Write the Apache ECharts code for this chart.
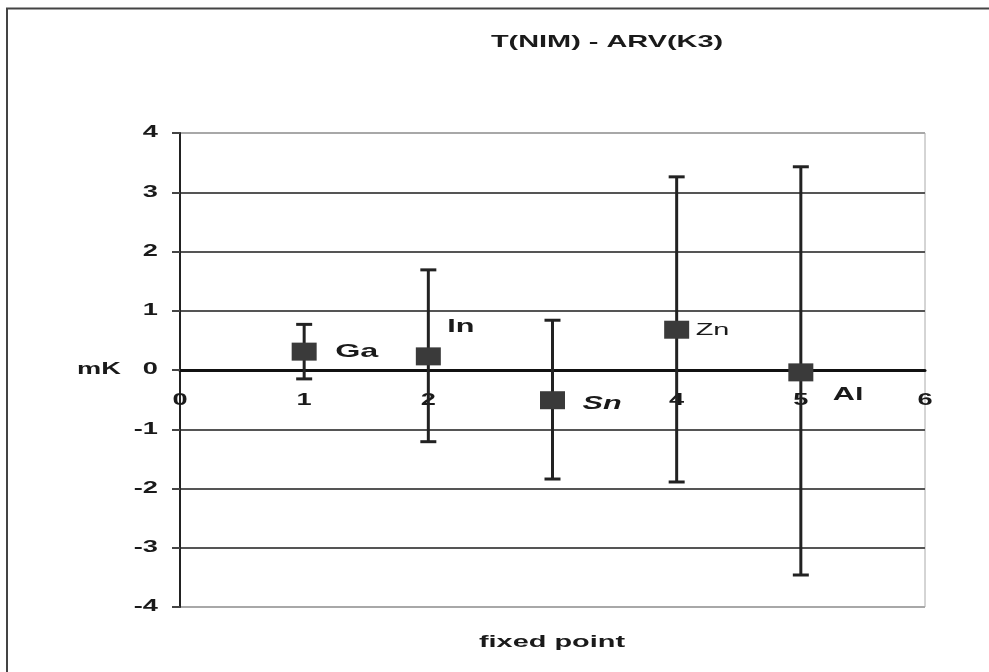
<!DOCTYPE html>
<html>
<head>
<meta charset="utf-8">
<script src="https://cdn.jsdelivr.net/npm/echarts@6/dist/echarts.min.js"></script>
<style>
html,body{margin:0;padding:0;background:#fff;}
#c{width:989px;height:672px;}
</style>
</head>
<body>
<div id="c"></div>
<script>
var fixedPoints = ['Ga', 'In', 'Sn', 'Zn', 'Al'];
var xValues = [1, 2, 3, 4, 5];
var diffValues = [0.31, 0.23, -0.51, 0.68, -0.04];
var errUpper = [0.77, 1.69, 0.84, 3.26, 3.43];
var errLower = [-0.15, -1.21, -1.84, -1.89, -3.46];
var xTicks = [0, 1, 2, 3, 4, 5, 6];
var yTicks = [-4, -3, -2, -1, 0, 1, 2, 3, 4];

var FONT = 'Arial, "Liberation Sans", sans-serif';
var STRETCH = 1.7;

// label styling per point: offset from marker centre, weight, style, size
var labelStyles = [
  {dx: 31, dy: 0, weight: 'bold', style: 'normal', size: 19},
  {dx: 19, dy: -29, weight: 'bold', style: 'normal', size: 18},
  {dx: 30, dy: 4, weight: 'bold', style: 'italic', size: 18},
  {dx: 19, dy: 1, weight: 'normal', style: 'normal', size: 17},
  {dx: 32, dy: 23, weight: 'bold', style: 'normal', size: 18}
];

function txt(x, y, text, opt) {
  opt = opt || {};
  var font = (opt.style || 'normal') + ' ' + (opt.weight || 'bold') + ' ' + (opt.size || 16) + 'px ' + FONT;
  return {
    type: 'text',
    x: x, y: y,
    scaleX: STRETCH,
    silent: true,
    style: {
      text: text,
      x: 0, y: 0,
      font: font,
      fill: opt.color || '#1a1a1a',
      align: opt.align || 'center',
      textAlign: opt.align || 'center',
      verticalAlign: 'middle',
      textVerticalAlign: 'middle'
    }
  };
}

var errData = xValues.map(function (x, i) { return [x, errLower[i], errUpper[i]]; });
var pointData = xValues.map(function (x, i) { return {value: [x, diffValues[i]], name: fixedPoints[i]}; });
var labelData = xValues.map(function (x, i) { return [x, diffValues[i], i]; });
var xTickData = xTicks.map(function (v) { return [v, 0]; });
var yTickData = yTicks.map(function (v) { return [0, v]; });
var splitColors = yTicks.map(function (v, i) { return (i === 0 || i === yTicks.length - 1) ? '#a8a8a8' : '#555'; });

var chart = echarts.init(document.getElementById('c'), null, {renderer: 'canvas'});
chart.setOption({
  animation: false,
  backgroundColor: '#fff',
  graphic: [
    {
      type: 'polyline',
      shape: {points: [[7, 672], [7, 8.5], [989, 8.5]]},
      style: {stroke: '#444', lineWidth: 2, fill: null},
      silent: true
    },
    txt(607, 42, 'T(NIM) - ARV(K3)', {size: 17}),
    txt(552, 642, 'fixed point', {size: 17}),
    txt(99, 370, 'mK', {size: 16})
  ],
  grid: {left: 180, right: 64, top: 133, bottom: 65, show: true, borderColor: '#aaa', borderWidth: 1},
  xAxis: {
    type: 'value',
    min: 0, max: 6, interval: 1,
    axisLine: {show: true, onZero: true, lineStyle: {color: '#111', width: 3}},
    axisTick: {show: false},
    splitLine: {show: false},
    axisLabel: {show: false}
  },
  yAxis: {
    type: 'value',
    min: -4, max: 4, interval: 1,
    axisLine: {show: true, onZero: false, lineStyle: {color: '#222', width: 2}},
    axisTick: {show: true, length: 8, lineStyle: {color: '#444', width: 2}},
    splitLine: {show: true, lineStyle: {color: splitColors, width: 2}},
    axisLabel: {show: false}
  },
  series: [
    {
      type: 'custom',
      name: 'xTickLabels',
      clip: false,
      silent: true,
      z: 1,
      data: xTickData,
      renderItem: function (params, api) {
        var p = api.coord([api.value(0), api.value(1)]);
        return txt(p[0], p[1] + 31, String(api.value(0)), {size: 16});
      }
    },
    {
      type: 'custom',
      name: 'yTickLabels',
      clip: false,
      silent: true,
      z: 1,
      data: yTickData,
      renderItem: function (params, api) {
        var p = api.coord([api.value(0), api.value(1)]);
        return txt(p[0] - 22, p[1], String(api.value(1)), {size: 16, align: 'right'});
      }
    },
    {
      type: 'custom',
      name: 'errorBars',
      data: errData,
      clip: false,
      z: 3,
      renderItem: function (params, api) {
        var x = api.value(0);
        var lo = api.coord([x, api.value(1)]);
        var hi = api.coord([x, api.value(2)]);
        var hw = 8;
        var st = {stroke: '#222', lineWidth: 3};
        return {
          type: 'group',
          children: [
            {type: 'line', shape: {x1: lo[0], y1: lo[1], x2: hi[0], y2: hi[1]}, style: st},
            {type: 'line', shape: {x1: hi[0] - hw, y1: hi[1], x2: hi[0] + hw, y2: hi[1]}, style: st},
            {type: 'line', shape: {x1: lo[0] - hw, y1: lo[1], x2: lo[0] + hw, y2: lo[1]}, style: st}
          ]
        };
      }
    },
    {
      type: 'scatter',
      name: 'difference',
      z: 4,
      symbol: 'rect',
      symbolSize: [25, 18],
      itemStyle: {color: '#3a3a3a', opacity: 1},
      data: pointData
    },
    {
      type: 'custom',
      name: 'pointLabels',
      clip: false,
      silent: true,
      z: 5,
      data: labelData,
      renderItem: function (params, api) {
        var i = api.value(2);
        var s = labelStyles[i];
        var p = api.coord([api.value(0), api.value(1)]);
        return txt(p[0] + s.dx, p[1] + s.dy, fixedPoints[i], {size: s.size, weight: s.weight, style: s.style, align: 'left'});
      }
    }
  ]
});
</script>
</body>
</html>
